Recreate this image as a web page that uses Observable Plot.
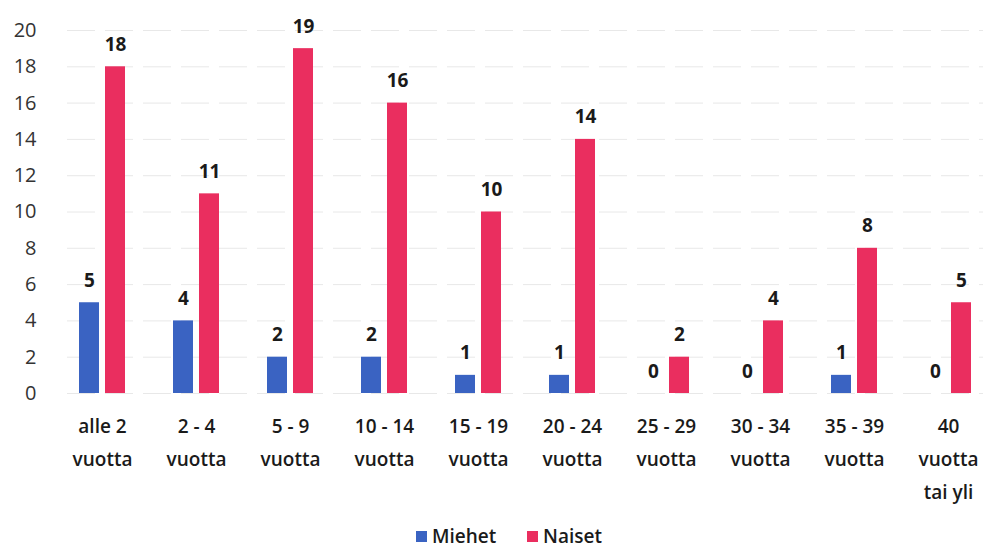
<!DOCTYPE html>
<html>
<head>
<meta charset="utf-8">
<script src="https://cdn.jsdelivr.net/npm/d3@7"></script>
<script src="https://cdn.jsdelivr.net/npm/@observablehq/plot@0.6"></script>
<style>
  html, body { margin: 0; padding: 0; background: #fff; }
  body { width: 984px; height: 549px; overflow: hidden; font-family: "Open Sans", sans-serif; }
  #chart svg { display: block; }
  #legend { position: relative; height: 39px; }
  .item { position: absolute; top: 15px; height: 22px; line-height: 22px; display: flex; align-items: center; font-size: 19px; font-weight: 600; color: #1a1a1a; }
  .sw { width: 11px; height: 11px; margin-right: 5px; }
</style>
</head>
<body>
<div id="chart"></div>
<div id="legend"></div>
<script>
const categories = ["alle 2\nvuotta", "2 - 4\nvuotta", "5 - 9\nvuotta", "10 - 14\nvuotta", "15 - 19\nvuotta", "20 - 24\nvuotta", "25 - 29\nvuotta", "30 - 34\nvuotta", "35 - 39\nvuotta", "40\nvuotta\ntai yli"];
const miehet = [5, 4, 2, 2, 1, 1, 0, 0, 1, 0];
const naiset = [18, 11, 19, 16, 10, 14, 2, 4, 8, 5];
const seriesNames = ["Miehet", "Naiset"];
const seriesColors = ["#3a63c2", "#ea2e5f"];
const yTicks = [0, 2, 4, 6, 8, 10, 12, 14, 16, 18, 20];

const dataM = categories.map((c, i) => ({category: c, value: miehet[i]}));
const dataN = categories.map((c, i) => ({category: c, value: naiset[i]}));

const chart = Plot.plot({
  width: 984,
  height: 510,
  marginLeft: 67,
  marginRight: 1,
  marginTop: 30,
  marginBottom: 117,
  style: {fontFamily: "Open Sans, sans-serif", background: "#fff"},
  x: {domain: categories, paddingInner: 0.3, paddingOuter: 0, axis: null, label: null},
  y: {domain: [0, 20], axis: null, label: null},
  marks: [
    Plot.gridY(yTicks, {stroke: "#d9d9d9", strokeOpacity: 0.6, strokeDasharray: "28,10"}),
    Plot.axisY(yTicks, {tickSize: 0, tickPadding: 31, fontSize: 20, fill: "#333", label: null}),
    Plot.axisX({tickSize: 0, tickPadding: 16, fontSize: 19, fontWeight: 600, fill: "#1a1a1a", lineHeight: 1.73, lineAnchor: "top", label: null}),
    Plot.barY(dataM, {x: "category", y: "value", fill: seriesColors[0], insetLeft: 10, insetRight: 36}),
    Plot.barY(dataN, {x: "category", y: "value", fill: seriesColors[1], insetLeft: 36, insetRight: 10}),
    Plot.text(dataM, {x: "category", y: "value", text: d => String(d.value), dx: -13, dy: -22, fontSize: 19, fontWeight: 700, fill: "#1a1a1a"}),
    Plot.text(dataN, {x: "category", y: "value", text: d => String(d.value), dx: 13, dy: -22, fontSize: 19, fontWeight: 700, fill: "#1a1a1a"})
  ]
});
document.getElementById("chart").appendChild(chart);

const legend = document.getElementById("legend");
const lefts = [416, 527];
seriesNames.forEach((name, i) => {
  const it = document.createElement("div");
  it.className = "item";
  it.style.left = lefts[i] + "px";
  const sw = document.createElement("span");
  sw.className = "sw";
  sw.style.background = seriesColors[i];
  const tx = document.createElement("span");
  tx.textContent = name;
  it.appendChild(sw);
  it.appendChild(tx);
  legend.appendChild(it);
});
</script>
</body>
</html>
